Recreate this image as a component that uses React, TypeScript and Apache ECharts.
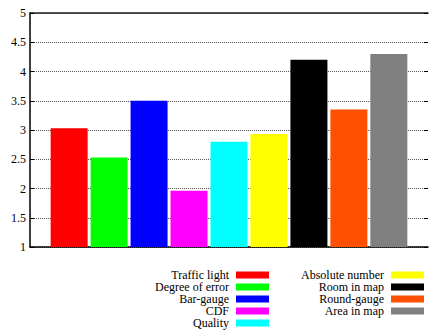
import React, { useEffect, useRef } from "react";
import * as echarts from "echarts";

const seriesNames = [
  "Traffic light",
  "Degree of error",
  "Bar-gauge",
  "CDF",
  "Quality",
  "Absolute number",
  "Room in map",
  "Round-gauge",
  "Area in map",
];
const seriesValues = [3.03, 2.53, 3.5, 1.96, 2.8, 2.93, 4.2, 3.35, 4.3];
const seriesColors = [
  "#ff0000",
  "#00ff00",
  "#0000ff",
  "#ff00ff",
  "#00ffff",
  "#ffff00",
  "#000000",
  "#ff5000",
  "#808080",
];
const categories = ["All"];
const yTicks = { min: 1, max: 5, interval: 0.5 };

const FONT = "Liberation Serif";

export default function App() {
  const ref = useRef<HTMLDivElement>(null);
  useEffect(() => {
    if (!ref.current) return;
    const chart = echarts.init(ref.current, null, { renderer: "svg" });
    const legendText = {
      fontFamily: FONT,
      fontSize: 12,
      color: "#000",
      width: 96,
      align: "right",
      lineHeight: 12,
      padding: [0, 2, 0, 0],
    };
    const legendBase = {
      orient: "vertical",
      align: "right",
      top: 269,
      height: 70,
      padding: 0,
      itemWidth: 33,
      itemHeight: 7,
      itemGap: 0,
      icon: "rect",
      textStyle: legendText,
      selectedMode: false,
    };
    chart.setOption({
      animation: false,
      backgroundColor: "#fff",
      textStyle: { fontFamily: FONT },
      grid: { left: 30, right: 1, top: 13, bottom: 83, containLabel: false },
      legend: [
        { ...legendBase, data: seriesNames.slice(0, 5), right: 160 },
        { ...legendBase, data: seriesNames.slice(5), right: 5 },
      ],
      xAxis: [
        {
          type: "category",
          data: categories,
          axisLine: { lineStyle: { color: "#000", width: 1.5 } },
          axisTick: { show: false },
          axisLabel: { show: false },
        },
        {
          type: "category",
          data: categories,
          position: "top",
          axisLine: { lineStyle: { color: "#222", width: 1.5 } },
          axisTick: { show: false },
          axisLabel: { show: false },
        },
      ],
      yAxis: [
        {
          type: "value",
          min: yTicks.min,
          max: yTicks.max,
          interval: yTicks.interval,
          axisLine: { show: true, lineStyle: { color: "#000", width: 1.5 } },
          axisTick: { show: true, inside: true, length: 4, lineStyle: { color: "#000" } },
          axisLabel: {
            fontFamily: FONT,
            fontSize: 12,
            color: "#000",
            margin: 4,
          },
          splitLine: {
            show: true,
            lineStyle: { color: "#555", type: [1, 1], width: 1 },
          },
        },
        {
          type: "value",
          position: "right",
          min: yTicks.min,
          max: yTicks.max,
          interval: yTicks.interval,
          axisLine: { show: false },
          axisTick: { show: true, inside: true, length: 4, lineStyle: { color: "#000" } },
          axisLabel: { show: false },
          splitLine: { show: false },
        },
      ],
      series: seriesNames.map((name, i) => ({
        name,
        type: "bar",
        data: [seriesValues[i]],
        barWidth: 37,
        barGap: "8%",
        itemStyle: { color: seriesColors[i] },
      })),
    });
    return () => chart.dispose();
  }, []);
  return (
    <div
      ref={ref}
      style={{ position: "fixed", left: 0, top: 0, width: 429, height: 330 }}
    />
  );
}
